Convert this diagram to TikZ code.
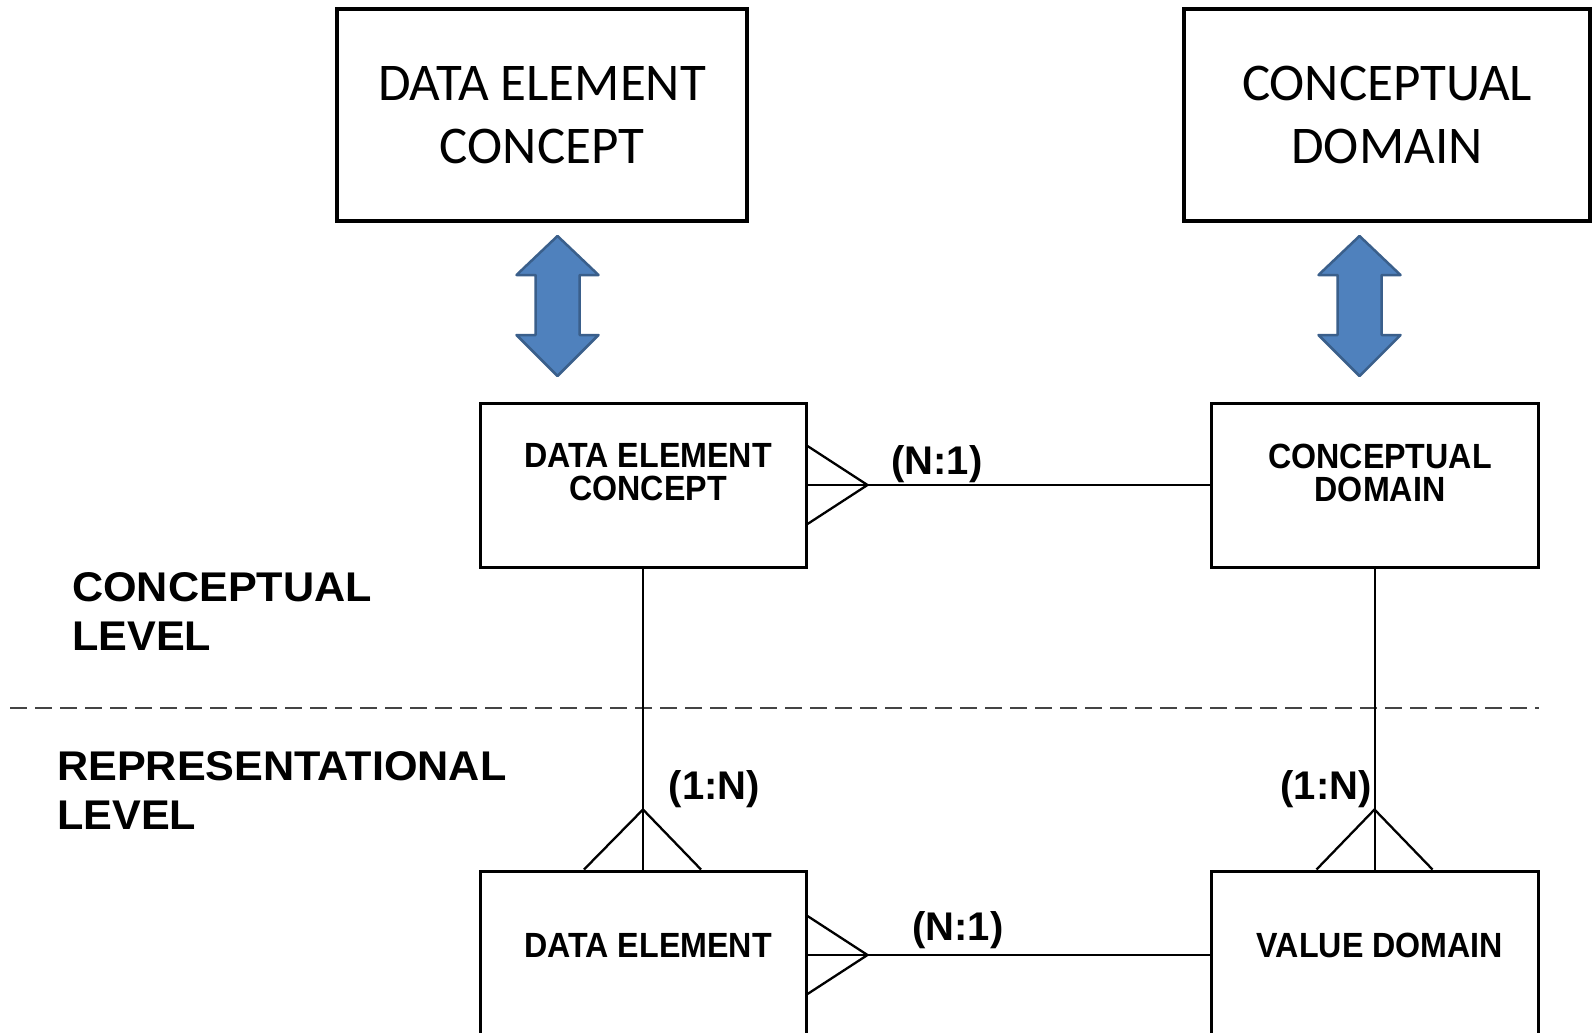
\documentclass[tikz,border=0pt]{standalone}
\usepackage{fontspec}
\setmainfont{Liberation Sans}
\newfontfamily\erfont{Liberation Sans}[FakeStretch=0.92]
\newfontfamily\lvlfont{Liberation Sans}[FakeStretch=1.04]
\newfontfamily\calfont{Carlito}
\usetikzlibrary{calc}
\definecolor{arrowfill}{HTML}{4F81BD}
\definecolor{arrowline}{HTML}{3A5F8B}
\definecolor{dashgray}{HTML}{444444}
\begin{document}
\begin{tikzpicture}[x=1pt,y=-1pt,
  bigbox/.style={draw, line width=4pt, inner sep=0pt, minimum height=212pt, align=center,
    font=\calfont\fontsize{53}{63}\selectfont},
  erbox/.style={draw, line width=3pt, inner sep=0pt, minimum width=326pt},
  ertext/.style={inner sep=0pt, align=center, font=\erfont\bfseries\fontsize{35}{33}\selectfont},
  lvltext/.style={inner sep=0pt, align=left, anchor=west, font=\lvlfont\bfseries\fontsize{41.5}{49}\selectfont},
  cardtext/.style={inner sep=0pt, font=\bfseries\fontsize{40}{42}\selectfont},
  rel/.style={line width=2pt},
  crow/.style={line width=2.3pt, line join=miter},
  dblarrow/.style={fill=arrowfill, draw=arrowline, line width=2.5pt, line join=round},
  divider/.style={draw=dashgray, line width=1.6pt, dash pattern=on 17pt off 8pt}
]
\path[use as bounding box, clip] (0,0) rectangle (1593,1033);
\fill[white] (0,0) rectangle (1593,1033);

% top boxes
\node[bigbox, minimum width=410pt] (tdec) at (542,115) {DATA ELEMENT\\CONCEPT};
\node[bigbox, minimum width=406pt] (tcd) at (1387,115) {CONCEPTUAL\\DOMAIN};

% double arrows
\foreach \cx/\nm in {557.5/la, 1359.5/ra}{
  \coordinate (\nm) at (\cx,306);
  \draw[dblarrow] (\cx,236) -- (\cx+41,275) -- (\cx+22,275) -- (\cx+22,335) -- (\cx+41,335)
     -- (\cx,376) -- (\cx-41,335) -- (\cx-22,335) -- (\cx-22,275) -- (\cx-41,275) -- cycle;
}

% divider
\coordinate (dl) at (10,708);
\coordinate (dr) at (1539,708);
\draw[divider] (dl) -- (dr);

% ER boxes
\node[erbox, minimum height=164pt] (dec) at (643,485) {};
\node[erbox, minimum height=164pt, minimum width=327pt] (cd) at (1374.5,485) {};
\node[erbox, minimum height=168pt] (de) at (643,955) {};
\node[erbox, minimum height=168pt, minimum width=327pt] (vd) at (1374.5,955) {};

\node[ertext] (dect) at (648,472.5) {DATA ELEMENT\\CONCEPT};
\node[ertext] (cdt) at (1380,472.5) {CONCEPTUAL\\DOMAIN};
\node[ertext, anchor=base] (det) at (648,957) {DATA ELEMENT};
\node[ertext, anchor=base] (vdt) at (1380,957) {VALUE DOMAIN};

% relation lines
\draw[rel] (dec.east) -- (cd.west);
\draw[rel] (de.east) -- (vd.west);
\draw[rel] (dec.south) -- (de.north);
\draw[rel] (cd.south) -- (vd.north);

% crow's feet
\draw[crow] ($(dec.east)+(0,-39)$) -- ($(dec.east)+(60,0)$) -- ($(dec.east)+(0,39)$);
\draw[crow] ($(de.east)+(0,-39)$) -- ($(de.east)+(60,0)$) -- ($(de.east)+(0,39)$);
\draw[crow] ($(de.north)+(-59,0)$) -- ($(de.north)+(0,-60)$) -- ($(de.north)+(58,0)$);
\draw[crow] ($(vd.north)+(-58,0)$) -- ($(vd.north)+(0,-60)$) -- ($(vd.north)+(58,0)$);

% cardinalities
\node[cardtext] (c1) at (937,464) {(N:1)};
\node[cardtext] (c2) at (958,930) {(N:1)};
\node[cardtext] (c3) at (714.5,789) {(1:N)};
\node[cardtext] (c4) at (1326,789) {(1:N)};

% level labels
\node[lvltext] (cl) at (72,611.5) {CONCEPTUAL\\LEVEL};
\node[lvltext] (rl) at (57,791) {REPRESENTATIONAL\\LEVEL};
\end{tikzpicture}
\end{document}
